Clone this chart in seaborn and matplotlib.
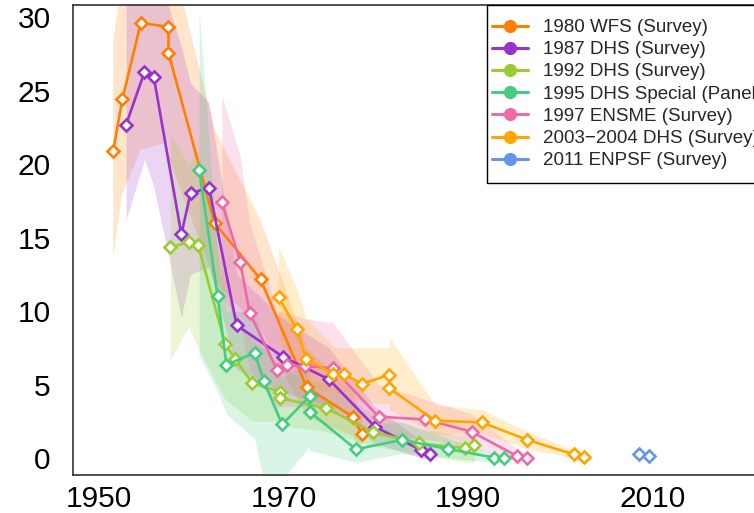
import matplotlib
matplotlib.use("Agg")
import matplotlib.pyplot as plt
from matplotlib.lines import Line2D
from matplotlib.patches import Rectangle
import seaborn as sns

# ---- survey series: cohort year, estimate, lower / upper interval ----
labels = [
    "1980 WFS (Survey)",
    "1987 DHS (Survey)",
    "1992 DHS (Survey)",
    "1995 DHS Special (Panel)",
    "1997 ENSME (Survey)",
    "2003\u22122004 DHS (Survey)",
    "2011 ENPSF (Survey)",
]
colors = ["#FF7F00", "#9932CC", "#9ACD32", "#43CD80", "#EE6AA7", "#FFA500", "#6495ED"]

wfs80_year = [1951.5, 1952.5, 1954.5, 1957.5, 1957.5, 1962.5, 1967.5, 1972.5, 1977.5, 1978.5]
wfs80_val = [20.92, 24.42, 29.63, 29.34, 27.59, 16.02, 12.16, 4.81, 2.81, 1.63]
wfs80_lo = [13.7, 18.0, 21.0, 21.5, 20.5, 12.0, 8.8, 2.8, 1.5, 0.6]
wfs80_hi = [28.3, 33.0, 36.0, 35.0, 35.0, 22.4, 16.2, 7.5, 4.5, 2.8]

dhs87_year = [1952.9, 1954.9, 1955.9, 1958.9, 1959.9, 1961.9, 1964.9, 1969.9, 1974.9, 1979.9, 1984.9, 1985.9]
dhs87_val = [22.69, 26.28, 25.96, 15.23, 18.02, 18.40, 9.03, 6.90, 5.36, 2.13, 0.54, 0.27]
dhs87_lo = [16.2, 20.3, 18.5, 9.6, 12.5, 13.0, 6.0, 4.5, 3.5, 1.0, 0.0, -0.1]
dhs87_hi = [31.5, 34.0, 34.0, 28.0, 25.5, 24.2, 12.5, 9.5, 7.5, 3.5, 1.2, 0.7]

dhs92_year = [1957.7, 1959.7, 1960.7, 1963.65, 1964.7, 1966.6, 1969.65, 1969.65, 1974.65,
              1979.7, 1984.65, 1989.7, 1990.7]
dhs92_val = [14.34, 14.70, 14.53, 7.76, 6.77, 5.09, 4.51, 4.06, 3.38, 1.77, 0.99, 0.68, 0.88]
dhs92_lo = [6.7, 8.9, 7.5, 4.0, 3.5, 2.5, 2.5, 2.2, 1.8, 0.8, 0.3, -0.3, -0.3]
dhs92_hi = [22.0, 20.0, 21.0, 12.0, 10.0, 8.0, 6.5, 6.0, 5.0, 3.0, 2.0, 1.5, 1.5]

dhs95_year = [1960.83, 1962.83, 1963.8, 1966.85, 1967.83, 1969.84, 1972.82, 1972.82, 1977.85,
              1982.83, 1987.86, 1992.87, 1993.87]
dhs95_val = [19.63, 11.04, 6.33, 7.17, 5.26, 2.28, 4.20, 3.15, 0.59, 1.23, 0.61, 0.02, 0.02]
dhs95_lo = [7.0, 4.5, 3.0, 1.3, -1.5, -1.5, 0.8, 0.5, -0.3, 0.3, 0.0, -0.3, -0.3]
dhs95_hi = [30.5, 14.0, 10.0, 10.0, 8.0, 5.5, 6.5, 5.0, 2.0, 2.5, 1.3, 0.3, 0.3]

ensme_year = [1963.3, 1965.3, 1966.3, 1969.3, 1970.35, 1972.33, 1975.34, 1980.3, 1985.36,
              1990.4, 1995.35, 1996.4]
ensme_val = [17.41, 13.32, 9.90, 5.99, 6.30, 6.26, 6.11, 2.81, 2.62, 1.79, 0.12, 0.02]
ensme_lo = [11.0, 9.0, 6.0, 3.5, 3.5, 3.5, 3.5, 1.5, 1.3, 0.7, -0.2, -0.2]
ensme_hi = [24.7, 20.5, 16.0, 10.0, 9.8, 9.5, 9.2, 5.0, 4.0, 3.0, 0.6, 0.3]

dhs03_year = [1969.46, 1971.43, 1972.44, 1975.41, 1976.5, 1978.49, 1981.49, 1981.49, 1986.45,
              1991.52, 1996.47, 2001.47, 2002.55]
dhs03_val = [10.94, 8.76, 6.73, 5.75, 5.72, 5.04, 5.67, 4.74, 2.54, 2.42, 1.23, 0.25, 0.09]
dhs03_lo = [8.0, 6.5, 5.0, 4.4, 4.3, 3.8, 3.7, 3.3, 1.6, 1.7, 0.6, 0.0, 0.0]
dhs03_hi = [14.4, 11.5, 9.5, 7.6, 7.5, 7.5, 7.5, 8.2, 3.6, 3.3, 1.8, 0.55, 0.3]

enpsf_year = [2008.6, 2009.68]
enpsf_val = [0.25, 0.14]

series = [
    (wfs80_year, wfs80_val, wfs80_lo, wfs80_hi),
    (dhs87_year, dhs87_val, dhs87_lo, dhs87_hi),
    (dhs92_year, dhs92_val, dhs92_lo, dhs92_hi),
    (dhs95_year, dhs95_val, dhs95_lo, dhs95_hi),
    (ensme_year, ensme_val, ensme_lo, ensme_hi),
    (dhs03_year, dhs03_val, dhs03_lo, dhs03_hi),
    (enpsf_year, enpsf_val, None, None),
]

xtick_pos = [1950, 1960, 1970, 1980, 1990, 2000, 2010, 2020]
xtick_lab = ["1950", "", "1970", "", "1990", "", "2010", ""]
ytick_pos = [0, 5, 10, 15, 20, 25, 30]

sns.set_style("white")
plt.rcParams["font.family"] = ["Liberation Sans", "DejaVu Sans"]

fig = plt.figure(figsize=(7.54, 5.13), dpi=100)
W, H = 754, 513
ax = fig.add_axes([73 / W, 38 / H, 745 / W, 470 / H])

# interval bands underneath
for (x, y, lo, hi), c in zip(series, colors):
    if lo is not None:
        ax.fill_between(x, lo, hi, color=c, alpha=0.2, lw=0, zorder=1)

# estimates with open diamond markers
for (x, y, lo, hi), c in zip(series, colors):
    sns.lineplot(x=x, y=y, ax=ax, color=c, lw=1.9, marker="D",
                 markersize=6.2, markerfacecolor="white",
                 markeredgecolor=c, markeredgewidth=1.9,
                 estimator=None, sort=False, errorbar=None,
                 legend=False, zorder=3)

ax.set_xlim(1947.14, 2028)
ax.set_ylim(-1.16, 30.84)
ax.set_xticks(xtick_pos)
ax.set_xticklabels(xtick_lab)
ax.set_yticks(ytick_pos)
ax.set_yticklabels([str(v) for v in ytick_pos])
ax.set_xlabel("")
ax.set_ylabel("")

for sp in ax.spines.values():
    sp.set_visible(True)
    sp.set_color("#222222")
    sp.set_linewidth(1.1)

ax.tick_params(axis="both", direction="out", length=7, width=1.1,
               color="#222222", labelsize=21.5, labelcolor="black")
ax.tick_params(axis="y", pad=9)
ax.tick_params(axis="x", pad=0.5)

# legend box: white panel with a black border, entries placed inside it
fig.patches.append(Rectangle((487 / W, (H - 183) / H), 300 / W, 178 / H,
                             transform=fig.transFigure, facecolor="white",
                             edgecolor="black", linewidth=1.0, zorder=5))

handles = [Line2D([0], [0], color=c, lw=2.2, marker="o", markersize=8.5,
                  markerfacecolor=c, markeredgecolor=c) for c in colors]
leg = fig.legend(handles, labels, loc="upper left",
                 bbox_to_anchor=(492 / W, (H - 19) / H), bbox_transform=fig.transFigure,
                 borderaxespad=0, fontsize=13.5, frameon=False,
                 borderpad=0, labelspacing=0.27, handlelength=1.9,
                 handletextpad=0.8)
leg.set_zorder(6)

fig.savefig("out.png", dpi=100)
